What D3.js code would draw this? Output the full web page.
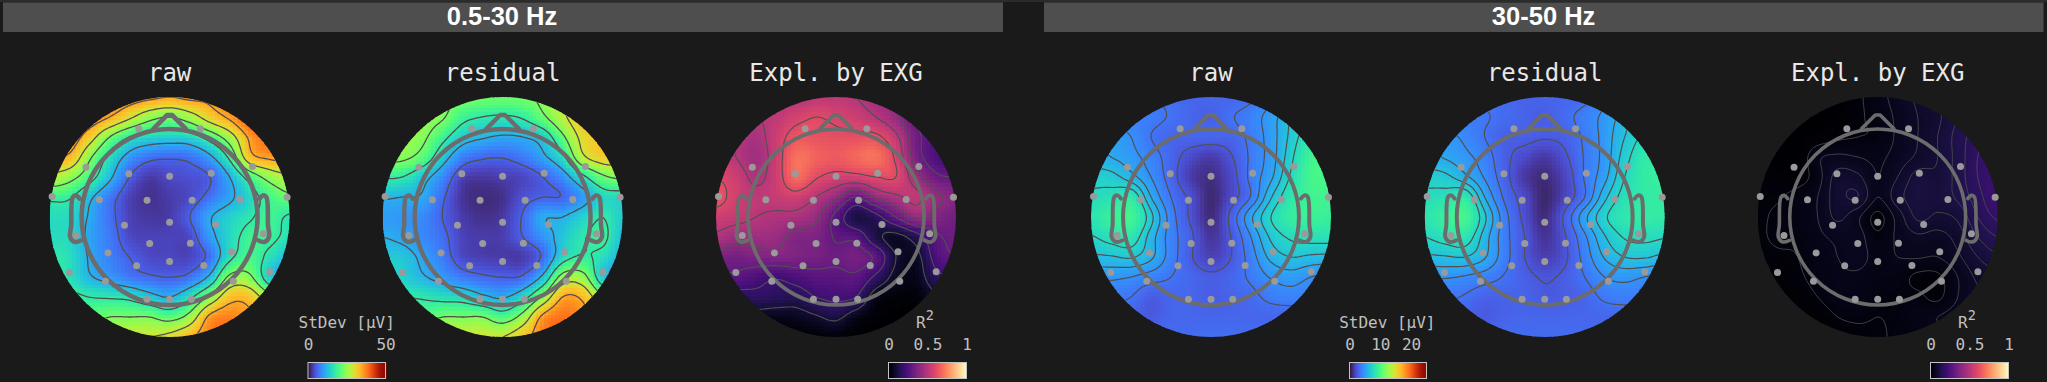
<!DOCTYPE html>
<html>
<head>
<meta charset="utf-8">
<script src="https://cdn.jsdelivr.net/npm/d3@7/dist/d3.min.js"></script>
<style>
  html, body { margin: 0; padding: 0; background: #1a1a1a; overflow: hidden; }
  svg { display: block; }
</style>
</head>
<body>
<svg id="chart" width="2047" height="382"></svg>
<script>
const bands = ["0.5-30 Hz", "30-50 Hz"];
const mapTitles = ["raw", "residual", "Expl. by EXG"];

// electrode positions, head-centred, 1 = edge of the interpolated disc
const sensors = [
  [-.257,.735],[.257,.735],[-.697,.415],[.690,.421],[-.340,.360],[0,.340],[.347,.365],
  [-.979,.171],[.979,.165],[-.585,.143],[-.188,.140],[.188,.140],[.585,.146],
  [-.376,-.068],[0,-.043],[.383,-.063],[-.781,-.154],[.781,-.140],
  [-.166,-.221],[.173,-.218],[-.513,-.299],[.517,-.290],[-.835,-.462],[.835,-.457],
  [-.275,-.407],[0,-.371],[.285,-.404],[-.535,-.535],[.531,-.535],
  [-.188,-.685],[0,-.685],[.181,-.685]
];

const noseOutline = [[-.135,.735],[-.02,.85],[.02,.85],[.135,.735]];
const earOutline = [[-.75,.153],[-.778,.18],[-.806,.167],[-.82,-.07],[-.828,-.167],[-.79,-.208],[-.736,-.194]];

// values on a 13x13 grid, top row first
const rawLow = [
  [37.6,37.6,37.6,37.6,36.6,35.5,34.5,35.5,35.5,37.6,40,42,42],
  [38.7,38.7,37.6,34.5,29.8,25,23,26,31.4,35.5,41.3,43,43],
  [37.6,37.6,31.4,23,17.2,15,14.3,15,19.5,26,35.5,40,40],
  [33.4,33.4,24,16,9.8,6.9,6.3,6.9,10.5,18.4,32.4,35.5,36.6],
  [27.7,25,19.5,12.5,5.7,3,4,4.5,5.7,11.5,19.5,25,27.7],
  [18.4,17.8,12.5,7.5,3.5,2.3,3,4,6.9,10.5,15,19.5,22],
  [15.5,15,11,6.9,3.5,2.7,3,5.7,11,14.3,16.7,18.8,16.7],
  [15.5,15,10.5,7.5,4,3.5,3.5,4,9.8,15,18.8,18.4,16],
  [17.2,15.7,11,8,5.7,4,3.8,3.7,6.9,16,19.5,16,12.5],
  [18.4,16,12,9.8,7.5,6.3,5.7,6.9,12.5,24,24,13.8,10.5],
  [18.4,18.4,17.2,16.7,16,13.3,11.5,16,24,32.4,32.4,25,21],
  [22,22,21.3,23,23,23,21,25,35.5,37.6,35.5,32.4,30],
  [25,25,25,27.6,28.7,28.7,30,33.4,37.6,39,37.6,34.5,32.4]
];
const residualLow = [
  [24,24,24,24,23,22.5,22,22.5,24,27.6,31.4,32.4,32.4],
  [26,26,25,23.5,18.8,17.2,16.7,17.8,22,27.6,32.4,33.4,33.4],
  [25,25,24,18.8,13.8,12,11,11.5,13.8,22,30.3,32.4,32.4],
  [24,24,21,13.8,8,6.3,6,7.5,10.5,16,27.6,31.4,31.4],
  [17.8,17.2,13.3,8.6,3.5,2.8,3.2,3.8,5.7,9.2,16,22,24],
  [12,11.5,11,6.3,2.5,1.8,2.2,4.5,5.7,6,9.8,15,15],
  [10,9.5,8.6,5.7,3,2.2,2.8,6,11,11.5,14.3,17.2,13.8],
  [11.5,10.5,8.6,6.6,3.5,3,3.2,5.7,9.2,13.3,16.7,18.4,12.5],
  [13.8,13.3,10.5,7.5,4,3.2,3,3,6.3,15,17.8,15.7,11.5],
  [16,14.3,12,9.8,7.5,6.3,5.7,6.3,12.5,25,25,13.8,10.5],
  [17.2,17.2,16.7,15.6,15,12.5,11,15,24,34.5,33.4,24,21],
  [23,23,21,23,23,23,20,25,35.5,38.7,36.6,32.4,28.7],
  [27.6,27.6,27.6,28.7,28.7,28.7,28.7,32.4,37.6,40,38.7,35.5,32.4]
];
const explainedLow = [
  [.50,.50,.50,.50,.50,.52,.52,.50,.45,.40,.33,.30,.28],
  [.50,.50,.50,.52,.57,.60,.58,.55,.50,.42,.30,.25,.25],
  [.52,.50,.47,.55,.64,.63,.62,.62,.62,.52,.33,.25,.22],
  [.55,.50,.45,.55,.70,.67,.65,.68,.70,.58,.35,.24,.22],
  [.60,.55,.48,.55,.69,.61,.57,.57,.60,.60,.44,.32,.30],
  [.64,.56,.52,.54,.56,.50,.42,.30,.42,.48,.52,.42,.38],
  [.55,.53,.50,.48,.47,.42,.27,.12,.17,.30,.42,.37,.33],
  [.48,.44,.44,.43,.37,.36,.29,.27,.13,.07,.15,.28,.32],
  [.36,.34,.36,.37,.36,.34,.32,.34,.28,.10,.07,.24,.30],
  [.28,.28,.24,.21,.24,.27,.27,.28,.18,.07,.05,.17,.20],
  [.15,.15,.17,.16,.15,.20,.22,.20,.05,.02,.02,.08,.10],
  [.05,.05,.06,.05,.06,.09,.12,.05,.01,0,0,.02,.02],
  [0,0,0,0,.01,.01,.02,0,0,0,0,0,0]
];
const rawHigh = [
  [3.5,3.5,3.5,3.5,3.3,3,3,3,3.3,4.3,5.5,6.5,6.5],
  [4,4,4,3.8,3.4,3,2.8,3.4,4,5,6.5,7.5,7.5],
  [5,5,4.5,3.5,3,3,3,3,3.8,5,6.8,8.5,8.8],
  [6,5.5,4.9,4,3,2,1.5,2.4,3.7,5,7.2,9.4,9.6],
  [7,6.9,5.9,4.5,3,1.5,1,2,3.8,5.3,7.7,9.6,9.7],
  [7.8,8,8.5,5.5,3.5,2.2,.8,2,3.6,6.4,8.4,9.4,9.4],
  [8.2,9,9.5,6.8,4,2.3,.9,2.8,5.3,7.5,8.8,9.2,9],
  [7.4,8,8.3,6,4,2.7,1.3,2.5,4.5,6.7,7.7,8,8],
  [6.3,6.4,6.6,5.7,4,2.6,1.7,2.5,4,5.8,6.5,6.3,6.2],
  [4.7,4.7,4.5,4,3.5,3,2.7,3,3.7,4.6,5,4.5,4.2],
  [3.8,3.8,3.5,2.7,3,3,2.7,2.9,3.2,3.8,4,3.8,3.5],
  [3,3,3,2.6,3,3,3,3,3,3,3,3,3],
  [3.3,3.3,3.3,3.3,3.2,3.2,3.3,3.3,3.3,3.3,3.3,3.3,3.3]
];
const residualHigh = [
  [3.4,3.4,3.4,3.3,3.1,2.9,2.9,3,3.2,4.2,5.2,6,6],
  [3.8,3.8,3.8,3.6,3.2,2.9,2.7,3.2,3.9,4.8,6,7.2,7.2],
  [4.8,4.8,4.3,3.5,2.8,2.8,2.6,2.8,3.7,4.9,6.5,7.8,8],
  [5.8,5.4,4.8,4,2.8,2,1.4,2.3,3.6,4.9,7,8.5,8.7],
  [7,6.8,5.8,4.4,2.9,1.4,.9,1.8,3.6,5.2,7.5,8.7,8.9],
  [7.8,8,8.5,5.5,3.3,2,.7,1.8,3.5,6.2,8,8.6,8.8],
  [8.2,9,9.6,6.7,3.9,2.2,.9,2.7,5.2,7.3,8.4,8.7,8.6],
  [7.5,8,8.3,6,3.9,2.5,1.2,2.4,4.3,6.4,7.6,7.8,7.6],
  [6.3,6.4,6.5,5.6,3.9,2.5,1.6,2.3,3.9,5.6,6.5,6.6,6.2],
  [4.6,4.6,4.4,4,3.4,2.8,2.4,2.7,3.5,4.5,4.8,4.5,4.2],
  [3.7,3.7,3.4,2.9,2.9,2.9,2.6,2.7,3,3.7,3.9,3.7,3.5],
  [3,3,3,2.6,2.9,3,3,3,3,3,3,3,3],
  [3.2,3.2,3.2,3.2,3.2,3.2,3.2,3.2,3.2,3.2,3.2,3.2,3.2]
];
const explainedHigh = [
  [0,0,0,0,.005,.02,.04,.06,.08,.10,.12,.15,.16],
  [0,0,0,0,.005,.02,.035,.055,.075,.095,.125,.15,.16],
  [0,0,0,.01,.02,.025,.03,.055,.075,.10,.135,.165,.18],
  [.005,0,.005,.045,.055,.05,.045,.06,.08,.10,.135,.175,.20],
  [.015,.012,.012,.04,.085,.08,.05,.075,.11,.105,.135,.175,.20],
  [.02,.022,.035,.05,.09,.10,.05,.09,.115,.11,.13,.165,.20],
  [.02,.03,.035,.05,.08,.055,.018,.06,.105,.095,.105,.15,.18],
  [.02,.03,.03,.045,.055,.06,.03,.055,.07,.065,.085,.125,.15],
  [.015,.02,.025,.04,.05,.06,.04,.05,.052,.05,.07,.10,.12],
  [.01,.012,.02,.035,.045,.045,.035,.035,.02,.02,.05,.08,.09],
  [.005,.005,.01,.025,.04,.04,.03,.03,.03,.02,.05,.07,.075],
  [.005,.005,.005,.01,.025,.03,.025,.03,.04,.05,.06,.06,.06],
  [.005,.005,.005,.005,.01,.015,.02,.03,.03,.04,.05,.05,.05]
];

const rawLowLevels = [5.75,11.5,17.25,23,28.75,34.5];
const rawHighLevels = [2.5,3.5,4.5,5.5,6.5,7.5];
const r2Levels = [.1,.2,.3,.4,.5,.6];
const r2HighLevels = [.025,.05,.075,.1,.125,.15,.175];

const panels = [
  {band: 0, title: 0, cx: 169.6, grid: rawLow, levels: rawLowLevels, kind: "std", vmax: 50, lw: 1.3, head: 4.6},
  {band: 0, title: 1, cx: 502.6, grid: residualLow, levels: rawLowLevels, kind: "std", vmax: 50, lw: 1.3, head: 4.4},
  {band: 0, title: 2, cx: 836, grid: explainedLow, levels: r2Levels, kind: "r2", vmax: 1, lw: 1.1, head: 3.8},
  {band: 1, title: 0, cx: 1211, grid: rawHigh, levels: rawHighLevels, kind: "std", vmax: 25, lw: 1.2, head: 4},
  {band: 1, title: 1, cx: 1544.7, grid: residualHigh, levels: rawHighLevels, kind: "std", vmax: 25, lw: 1.2, head: 4},
  {band: 1, title: 2, cx: 1877.7, grid: explainedHigh, levels: r2HighLevels, kind: "r2", vmax: 1, lw: .8, head: 3.6}
];

const colorbars = [
  {x0: 308, x1: 385.5, vmax: 50, ticks: [0, 50], kind: "std", label: "StDev [µV]", lx: 346.7},
  {x0: 888.5, x1: 966.5, vmax: 1, ticks: [0, .5, 1], kind: "r2", label: "R", lx: 925},
  {x0: 1349.5, x1: 1426.5, vmax: 25, ticks: [0, 10, 20], kind: "std", label: "StDev [µV]", lx: 1387.3},
  {x0: 1930.5, x1: 2008.5, vmax: 1, ticks: [0, .5, 1], kind: "r2", label: "R", lx: 1967}
];

const headers = [
  {x0: 3, x1: 1003, tx: 502},
  {x0: 1044, x1: 2043.5, tx: 1543.6}
];

const radius = 120;
const cy = 217;
const cells = 64;
const fine = 128;
const interp = {std: d3.interpolateTurbo, r2: d3.interpolateMagma};

const svg = d3.select("#chart");
const defs = svg.append("defs");
defs.append("clipPath").attr("id", "disc").append("circle").attr("r", radius);

svg.append("rect").attr("width", 2047).attr("height", 382).attr("fill", "#1a1a1a");
svg.append("rect").attr("width", 2047).attr("height", 2).attr("fill", "#2b2b2b");

svg.selectAll(".band")
  .data(headers)
  .join("rect")
  .attr("class", "band")
  .attr("x", (d) => d.x0)
  .attr("y", 2.5)
  .attr("width", (d) => d.x1 - d.x0)
  .attr("height", 29.5)
  .attr("fill", "#4e4e4e");

svg.selectAll(".band-label")
  .data(headers)
  .join("text")
  .attr("class", "band-label")
  .attr("x", (d) => d.tx)
  .attr("y", 25)
  .attr("text-anchor", "middle")
  .attr("font-family", "'Liberation Sans', Arial, sans-serif")
  .attr("font-weight", "bold")
  .attr("font-size", 25.5)
  .attr("fill", "#fff")
  .text((d, i) => bands[i]);

// catmull-rom lookup in a value grid, u and v in 0..1
function sampleGrid(grid, u, v) {
  const n = grid.length - 1;
  const gx = Math.min(u * n, n - 1e-6);
  const gy = Math.min(v * n, n - 1e-6);
  const ix = Math.floor(gx), iy = Math.floor(gy);
  const cr = (a, b, c, d, t) => 0.5 * (2 * b + (c - a) * t + (2 * a - 5 * b + 4 * c - d) * t * t + (3 * b - a - 3 * c + d) * t * t * t);
  const at = (r, c) => grid[Math.max(0, Math.min(n, r))][Math.max(0, Math.min(n, c))];
  const row = (r) => cr(at(r, ix - 1), at(r, ix), at(r, ix + 1), at(r, ix + 2), gx - ix);
  return cr(row(iy - 1), row(iy), row(iy + 1), row(iy + 2), gy - iy);
}

function drawPanel(p) {
  const g = svg.append("g").attr("transform", `translate(${p.cx},${cy})`);
  const color = d3.scaleSequential(interp[p.kind]).domain([0, p.vmax]).clamp(true);
  const px = d3.scaleLinear().domain([-1, 1]).range([-radius, radius]);
  const py = d3.scaleLinear().domain([-1, 1]).range([radius, -radius]);

  g.append("text")
    .attr("x", 0)
    .attr("y", 80.5 - cy)
    .attr("text-anchor", "middle")
    .attr("font-family", "'DejaVu Sans Mono', monospace")
    .attr("font-size", 24)
    .attr("fill", "#e8e8e8")
    .text(mapTitles[p.title]);

  const disc = g.append("g").attr("clip-path", "url(#disc)");
  const pixels = d3.cross(d3.range(cells), d3.range(cells));
  const cellSize = 2 * radius / cells;
  disc.append("g")
    .attr("shape-rendering", "crispEdges")
    .selectAll("rect")
    .data(pixels)
    .join("rect")
    .attr("x", (d) => -radius + d[0] * cellSize)
    .attr("y", (d) => -radius + d[1] * cellSize)
    .attr("width", cellSize + 0.5)
    .attr("height", cellSize + 0.5)
    .attr("fill", (d) => color(sampleGrid(p.grid, (d[0] + .5) / cells, (d[1] + .5) / cells)));

  // contour lines on a finer field
  const field = new Float64Array(fine * fine);
  for (let j = 0; j < fine; j++) {
    for (let i = 0; i < fine; i++) {
      field[j * fine + i] = sampleGrid(p.grid, i / (fine - 1), j / (fine - 1));
    }
  }
  const contours = d3.contours().size([fine, fine]).thresholds(p.levels)(field);
  const k = 2 * radius / (fine - 1);
  const path = d3.geoPath(d3.geoTransform({
    point(x, y) { this.stream.point(-radius + (x - .5) * k, -radius + (y - .5) * k); }
  }));
  disc.append("g")
    .selectAll("path")
    .data(contours)
    .join("path")
    .attr("d", path)
    .attr("fill", "none")
    .attr("stroke", "#505050")
    .attr("stroke-width", p.lw);

  const unit = (pts) => pts.map((q) => [px(q[0]), py(q[1])]);
  const outline = d3.line().curve(d3.curveCatmullRom);
  const head = g.append("g")
    .attr("fill", "none")
    .attr("stroke", "#6c6c6c")
    .attr("stroke-width", p.head)
    .attr("stroke-linejoin", "round")
    .attr("stroke-linecap", "round");
  head.append("circle").attr("r", px(.733));
  head.append("path").attr("d", d3.line()(unit(noseOutline)));
  head.append("path").attr("d", outline(unit(earOutline)));
  head.append("path").attr("d", outline(unit(earOutline.map((q) => [-q[0], q[1]]))));

  g.append("g")
    .selectAll("circle")
    .data(sensors)
    .join("circle")
    .attr("cx", (d) => px(d[0]))
    .attr("cy", (d) => py(d[1]))
    .attr("r", 3.5)
    .attr("fill", "#9a9a9a");
}

function drawColorbar(b) {
  const x = d3.scaleLinear().domain([0, b.vmax]).range([b.x0, b.x1]);
  const color = d3.scaleSequential(interp[b.kind]).domain([0, b.vmax]);
  const steps = d3.range(0, b.x1 - b.x0, 1);
  const g = svg.append("g");
  g.selectAll("rect")
    .data(steps)
    .join("rect")
    .attr("x", (d) => b.x0 + d)
    .attr("y", 362.5)
    .attr("width", 1.5)
    .attr("height", 16)
    .attr("fill", (d) => color(x.invert(b.x0 + d + .5)));
  g.append("rect")
    .attr("x", b.x0)
    .attr("y", 362.5)
    .attr("width", b.x1 - b.x0)
    .attr("height", 16)
    .attr("fill", "none")
    .attr("stroke", "#c4c4c4")
    .attr("stroke-width", 1);

  const axis = d3.axisTop(x).tickValues(b.ticks).tickSize(0).tickPadding(0).tickFormat(d3.format("~g"));
  const ax = g.append("g").attr("transform", "translate(0,350)").call(axis);
  ax.select(".domain").remove();
  ax.selectAll("text")
    .attr("font-family", "'DejaVu Sans Mono', monospace")
    .attr("font-size", 16)
    .attr("fill", "#c0c0c0")
    .attr("dy", 0);

  const label = g.append("text")
    .attr("x", b.lx)
    .attr("y", 327.5)
    .attr("text-anchor", "middle")
    .attr("font-family", "'DejaVu Sans Mono', monospace")
    .attr("font-size", 16)
    .attr("fill", "#c0c0c0")
    .text(b.label);
  if (b.kind === "r2") {
    label.append("tspan").attr("dy", -8).attr("font-size", 13.5).text("2");
  }
}

panels.forEach(drawPanel);
colorbars.forEach(drawColorbar);
</script>
</body>
</html>
